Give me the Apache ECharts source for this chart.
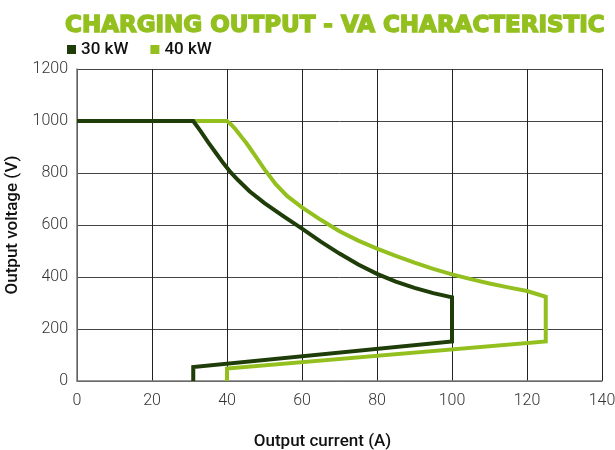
<!DOCTYPE html>
<html>
<head>
<meta charset="utf-8">
<script src="https://cdn.jsdelivr.net/npm/echarts@6/dist/echarts.min.js"></script>
<style>
  html, body { margin: 0; padding: 0; background: #fff; }
  #chart { width: 615px; height: 450px; }
</style>
</head>
<body>
<div id="chart"></div>
<script>
// data: [current A, voltage V]
const xTicks = [0, 20, 40, 60, 80, 100, 120, 140];
const yTicks = [0, 200, 400, 600, 800, 1000, 1200];
const seriesNames = ["30 kW", "40 kW"];

const curve30 = [
  [0, 1000], [31, 1000], [33, 960], [35, 918], [37, 878], [39, 838],
  [41, 802], [43, 772], [46, 730], [50, 684], [55, 634], [60, 586],
  [65, 536], [70, 490], [75, 448], [80, 412], [85, 382], [90, 358],
  [95, 338], [100, 322], [100, 152], [31, 54], [31, 0]
];
const curve40 = [
  [0, 1000], [40, 1000], [41, 988], [42, 973], [43, 955], [44, 936],
  [45, 918], [46, 898], [48, 856], [50, 814], [53, 757], [56, 712],
  [60, 668], [65, 620], [70, 576], [75, 540], [80, 509], [85, 481],
  [90, 455], [95, 431], [100, 410], [105, 392], [110, 375], [115, 360],
  [120, 346], [125, 324], [125, 152], [40, 48], [40, 0]
];

const darkGreen = "#1f3d08";
const lightGreen = "#93c01f";

let chart = echarts.init(document.getElementById("chart"));
let option = {
  animation: false,
  title: {
    text: "CHARGING OUTPUT - VA CHARACTERISTIC",
    left: 60,
    top: 10,
    textStyle: {
      fontFamily: "DejaVu Sans",
      fontWeight: "bold",
      fontSize: 23,
      color: lightGreen,
      textBorderColor: lightGreen,
      textBorderWidth: 1.5
    }
  },
  legend: {
    data: seriesNames,
    left: 62,
    top: 36,
    icon: "rect",
    itemWidth: 9,
    itemHeight: 9,
    itemGap: 22,
    textStyle: {
      fontFamily: "Roboto",
      fontWeight: 500,
      fontSize: 17,
      color: "#111"
    }
  },
  grid: { left: 77, right: 13, top: 69, bottom: 69, outerBoundsMode: "none" },
  xAxis: {
    type: "value",
    min: xTicks[0],
    max: xTicks[xTicks.length - 1],
    interval: 20,
    name: "Output current (A)",
    nameLocation: "middle",
    nameGap: 52,
    nameTextStyle: {
      fontFamily: "Roboto",
      fontWeight: 500,
      fontSize: 17,
      color: "#111",
      padding: [0, 34, 0, 0]
    },
    axisLine: { show: true, lineStyle: { color: "#777", width: 1.5 } },
    axisTick: { show: false },
    axisLabel: {
      fontFamily: "Roboto",
      fontWeight: 300,
      fontSize: 16,
      color: "#333",
      margin: 12,
      formatter: v => String(v)
    },
    splitLine: { show: true, lineStyle: { color: "#222", width: 1 } }
  },
  yAxis: {
    type: "value",
    min: yTicks[0],
    max: yTicks[yTicks.length - 1],
    interval: 200,
    name: "Output voltage (V)",
    nameLocation: "middle",
    nameGap: 53,
    nameTextStyle: {
      fontFamily: "Roboto",
      fontWeight: 500,
      fontSize: 17,
      color: "#111"
    },
    axisLine: { show: true, lineStyle: { color: "#777", width: 1.5 } },
    axisTick: { show: false },
    axisLabel: {
      fontFamily: "Roboto",
      fontWeight: 300,
      fontSize: 16,
      color: "#333",
      margin: 9,
      formatter: v => String(v)
    },
    splitLine: { show: true, lineStyle: { color: "#444", width: 1 } }
  },
  series: [
    {
      name: "40 kW",
      type: "line",
      data: curve40,
      showSymbol: false,
      color: lightGreen,
      lineStyle: { width: 4, join: "miter" }
    },
    {
      name: "30 kW",
      type: "line",
      data: curve30,
      showSymbol: false,
      color: darkGreen,
      lineStyle: { width: 4, join: "miter" }
    }
  ]
};
chart.setOption(option);
</script>
</body>
</html>
